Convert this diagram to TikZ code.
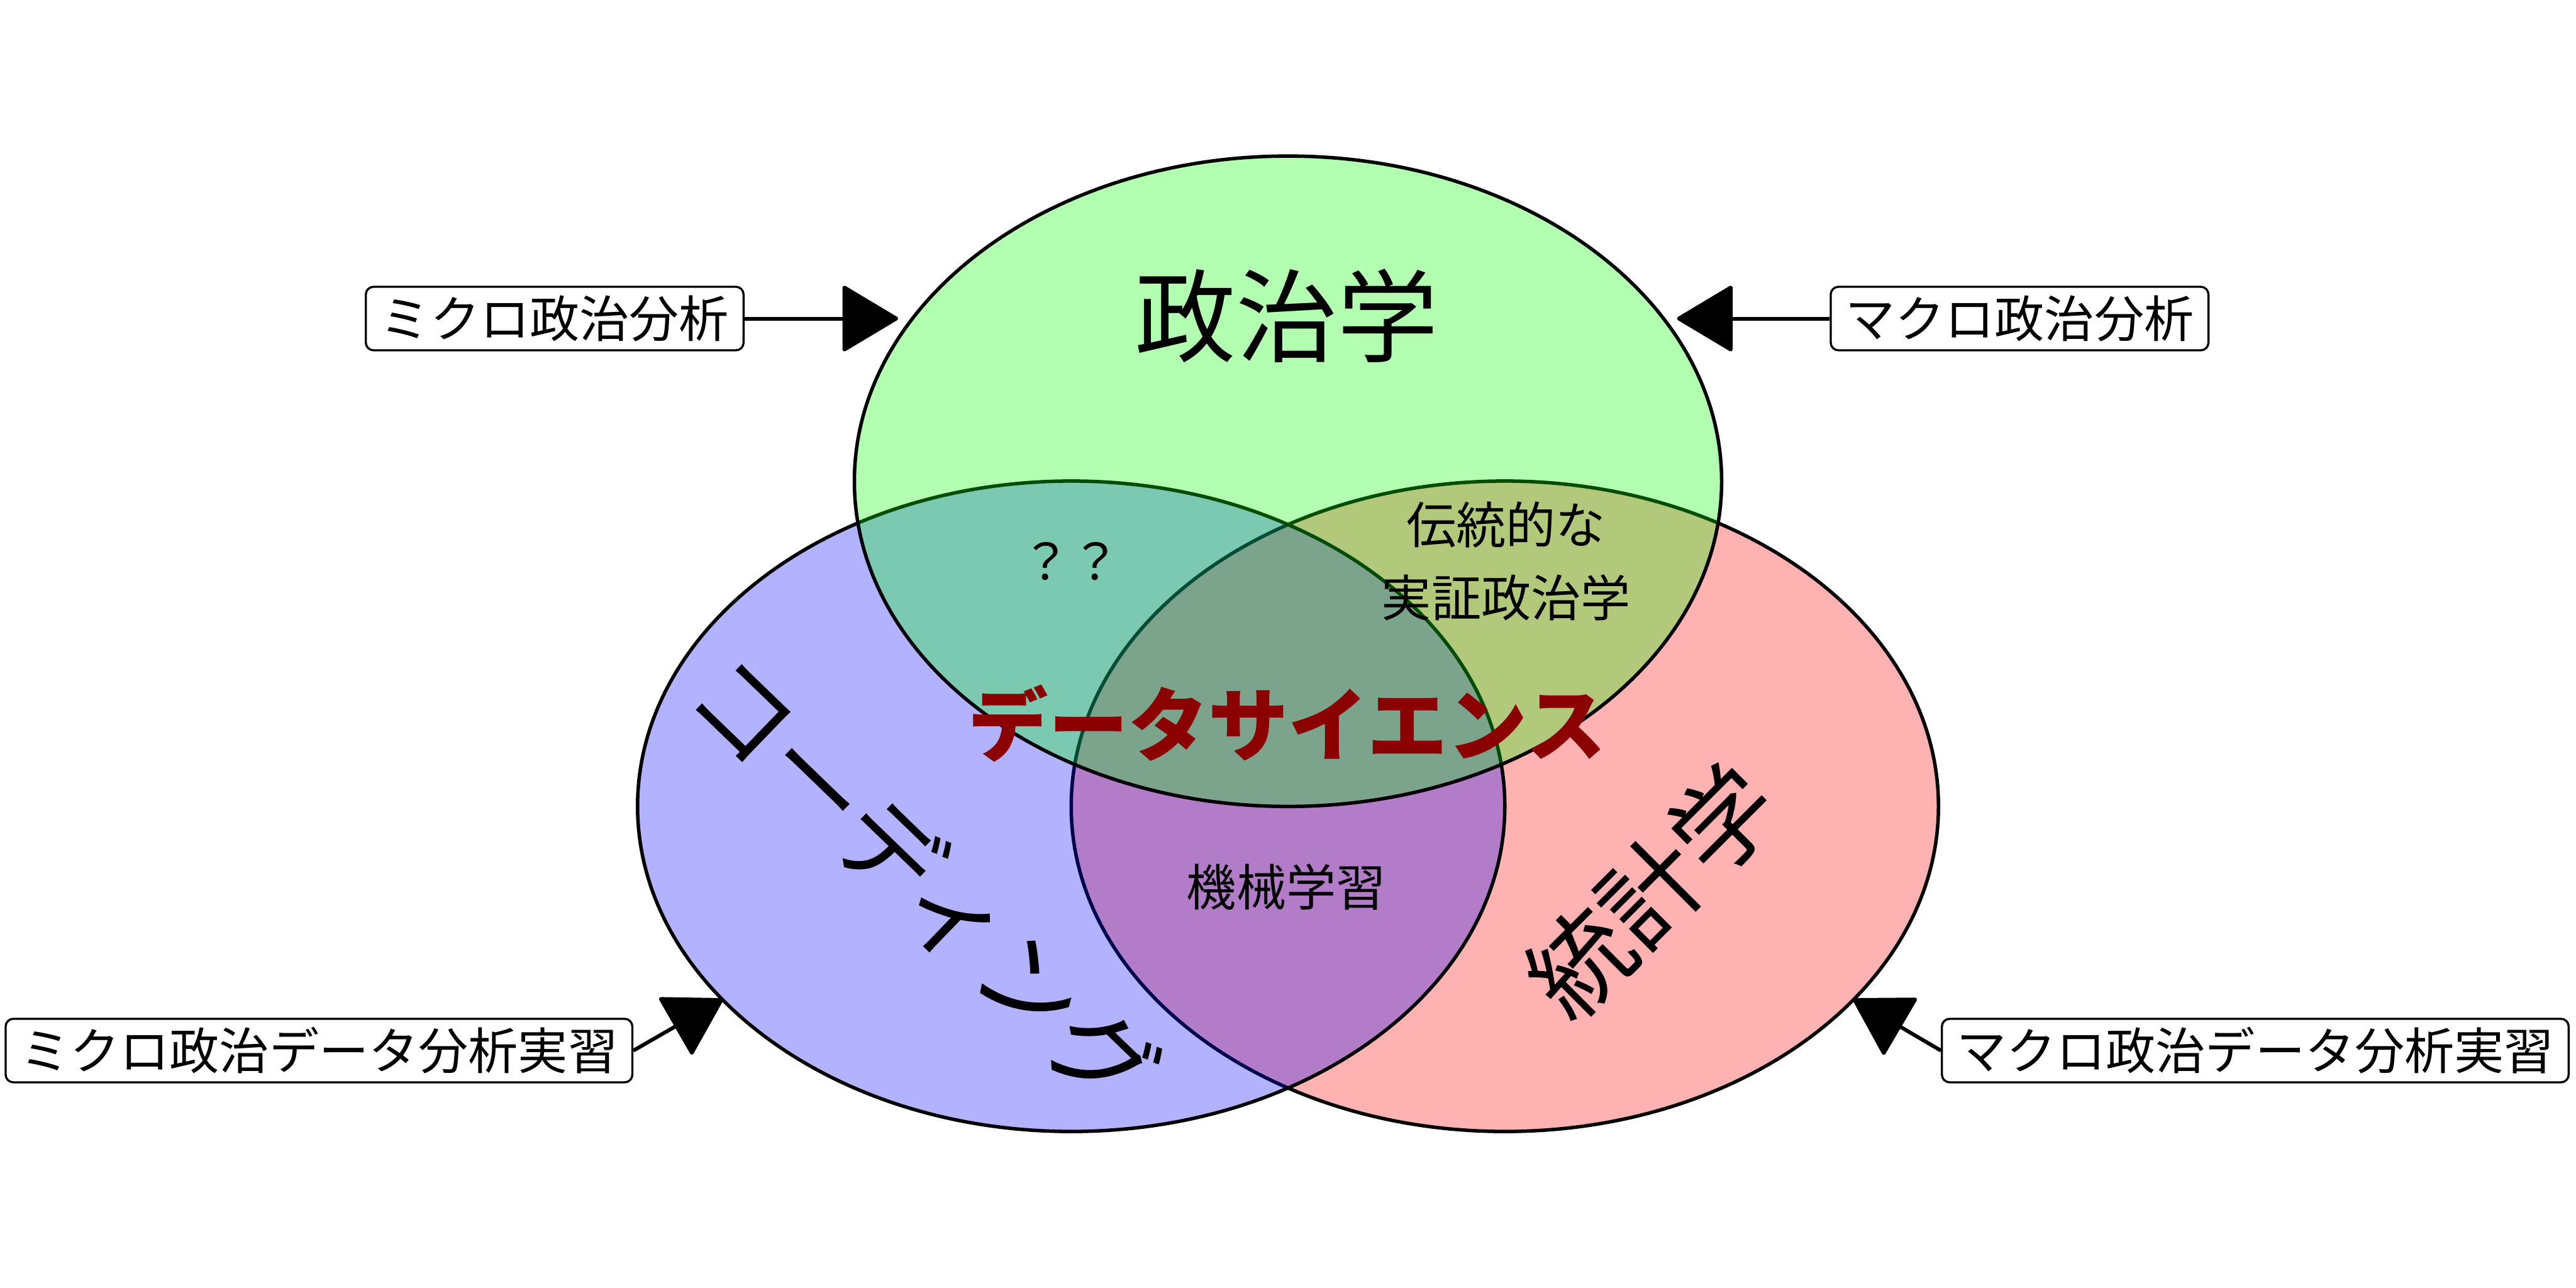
\documentclass[tikz,border=0pt]{standalone}
\usepackage{fontspec}
\setmainfont{Noto Sans CJK JP}
\usetikzlibrary{arrows.meta}
\definecolor{dred}{HTML}{8B0000}
\begin{document}
\begin{tikzpicture}[
  venn/.style={draw=black, line width=2.3pt, fill opacity=0.3},
  lbox/.style={draw=black, line width=1.4pt, rounded corners=0.18cm, fill=white,
    minimum height=1.48cm, inner xsep=0.34cm, inner ysep=0pt,
    font=\fontsize{33pt}{40pt}\selectfont},
  conn/.style={line width=2.5pt, -{Triangle[length=1.34cm, width=1.58cm, round]}},
  smalltext/.style={font=\fontsize{33pt}{48.6pt}\selectfont, align=center, inner sep=0pt},
  bigtext/.style={font=\fontsize{67pt}{80pt}\selectfont, inner sep=0pt},
  dstext/.style={font=\fontsize{53pt}{64pt}\selectfont\bfseries, text=dred, inner sep=0pt},
]
\useasboundingbox (0,0) rectangle (60,30);
\fill[white] (0,0) rectangle (60,30);

% circles: red, blue, green
\draw[venn, fill=red]   (35.05,11.22) ellipse [x radius=10.1, y radius=7.575];
\draw[venn, fill=blue]  (24.95,11.22) ellipse [x radius=10.1, y radius=7.575];
\draw[venn, fill=green] (30,18.79)    ellipse [x radius=10.1, y radius=7.575];

% region labels
\node[bigtext] (pol) at (29.97,22.65) {政治学};
\node[bigtext, rotate=-44] (cod) at (21.53,9.45) {コーディング};
\node[bigtext, rotate=45] (stat) at (38.46,9.24) {統計学};
\node[smalltext] (qq) at (24.94,16.93) {？？};
\node[smalltext] (trad) at (35.08,16.93) {伝統的な\\実証政治学};
\node[smalltext] (ml) at (29.96,9.34) {機械学習};
\node[dstext] (ds) at (29.98,13.15) {データサイエンス};

% side boxes
\node[lbox] (mic) at (12.92,22.58) {ミクロ政治分析};
\node[lbox] (mac) at (47.04,22.58) {マクロ政治分析};
\node[lbox] (micd) at (7.43,5.53) {ミクロ政治データ分析実習};
\node[lbox] (macd) at (52.53,5.53) {マクロ政治データ分析実習};

\coordinate (t1) at (20.92,22.58);
\coordinate (t2) at (39.06,22.58);
\coordinate (t3) at (16.84,6.73);
\coordinate (t4) at (43.16,6.73);

\draw[conn] (mic.east) -- (t1);
\draw[conn] (mac.west) -- (t2);
\draw[conn] (micd.east) -- (t3);
\draw[conn] (macd.west) -- (t4);
\end{tikzpicture}
\end{document}
